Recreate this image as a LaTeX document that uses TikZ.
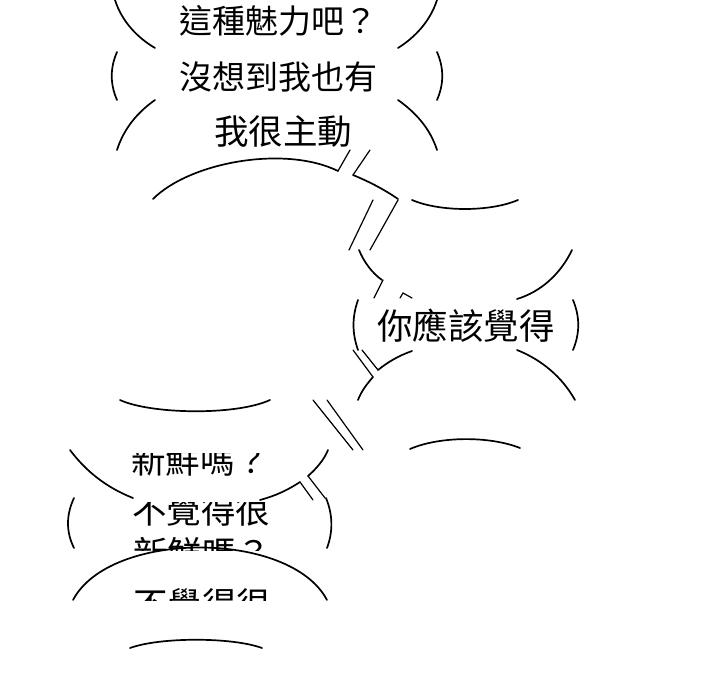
\documentclass[tikz,border=0pt]{standalone}
\usepackage{fontspec}
\newfontfamily\cjk{Noto Sans CJK TC}
\begin{document}
\begin{tikzpicture}[x=1pt,y=-1pt,
  ln/.style={line width=1.7pt, line cap=round, black},
  tl/.style={line width=1.2pt, line cap=round, black},
  txt/.style={font=\cjk\fontsize{33}{40}\selectfont, inner sep=0pt, anchor=base west, text=black},
  txtb/.style={font=\cjk\fontsize{34.5}{40}\selectfont, inner sep=0pt, anchor=base west, text=black}]
\useasboundingbox[fill=white] (0,0) rectangle (720,700);

% top rows
\draw[ln] (115,0) .. controls (122,22) and (138,38) .. (155,48);
\draw[ln] (437,0) .. controls (430,22) and (414,38) .. (398,48);
\node[txt] (t1) at (179,34) {這種魅力吧？};
\draw[ln] (117,52) .. controls (110,68) and (110,84) .. (117,100);
\draw[ln] (437,52) .. controls (444,68) and (444,84) .. (437,100);
\node[txt] (t2) at (179,90) {沒想到我也有};
\draw[ln] (117,150) .. controls (124,128) and (138,112) .. (155,100);
\draw[ln] (398,100) .. controls (415,112) and (430,128) .. (437,150);
\node[txtb] (t3) at (214,145) {我很主動};

% big arc with tail, y 150-200
\draw[ln] (153,199) .. controls (190,162) and (285,145) .. (338,171);
\draw[tl] (338,171) -- (350,150);
\draw[tl] (370,150) -- (353,175);
\draw[ln] (353,175) .. controls (370,182) and (385,190) .. (398,199);
\draw[ln] (412,200) .. controls (440,212) and (490,212) .. (518,200);

% y 200-300
\draw[tl] (373,200) -- (349,250);
\draw[tl] (398,200) -- (370,250);
\draw[ln] (359,250) .. controls (364,262) and (372,273) .. (382,280);
\draw[tl] (383,280) -- (374,298);
\draw[ln] (572,250) .. controls (560,275) and (540,292) .. (517,299);
\draw[tl] (400,298) -- (403,293) -- (412,298);

% y 300-350
\draw[ln] (358,300) .. controls (352,317) and (352,333) .. (358,350);
\draw[ln] (573,300) .. controls (580,317) and (580,333) .. (573,350);
\node[txtb, font=\cjk\fontsize{35.5}{40}\selectfont] (t4) at (377,340) {你應該覺得};

% y 350-400
\draw[tl] (353,350) -- (373,377);
\draw[tl] (362,350) -- (378,370);
\draw[ln] (378,370) .. controls (388,362) and (398,356) .. (412,351);
\draw[ln] (373,377) .. controls (366,385) and (361,392) .. (358,400);
\draw[ln] (517,350) .. controls (542,360) and (562,377) .. (575,400);

% y 400-450
\draw[ln] (120,400) .. controls (150,414) and (235,416) .. (270,400);
\draw[tl] (313,400) -- (353,450);
\draw[tl] (327,400) -- (363,450);
\draw[ln] (410,449) .. controls (440,436) and (490,436) .. (520,448);

% y 450-500
\begin{scope}
  \clip (100,453) rectangle (300,500);
  \node[txtb] (t5) at (131,473) {新鮮嗎？};
\end{scope}
\draw[ln] (70,450) .. controls (85,470) and (105,487) .. (133,498);
\draw[ln] (328,450) .. controls (324,460) and (316,469) .. (308,476);
\draw[tl] (308,476) -- (325,498);
\draw[ln] (300,482) .. controls (288,490) and (275,496) .. (260,500);
\draw[tl] (300,482) -- (313,500);

% y 500-550
\draw[ln] (74,498) .. controls (66,515) and (66,532) .. (74,548);
\draw[ln] (326,498) .. controls (333,515) and (333,532) .. (327,548);
\begin{scope}
  \clip (100,502) rectangle (300,550);
  \node[txtb] (t6) at (132,523) {不覺得很};
  \node[txtb] (t7) at (133,566) {新鮮嗎？};
\end{scope}

% y 550-600
\draw[ln] (73,600) .. controls (110,530) and (290,530) .. (327,600);
\begin{scope}
  \clip (100,560) rectangle (300,600);
  \node[txtb] (t8) at (133,617) {不覺得很};
\end{scope}

% y 600-650
\draw[ln] (130,648) .. controls (160,637) and (232,637) .. (262,648);
\end{tikzpicture}
\end{document}
